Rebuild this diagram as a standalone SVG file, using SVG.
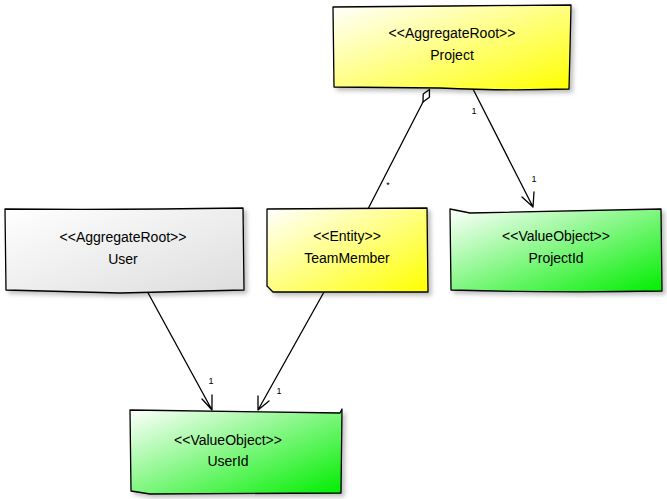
<svg xmlns="http://www.w3.org/2000/svg" width="667" height="499" viewBox="0 0 667 499">
<style>
.box{stroke:#000;stroke-width:1.3;stroke-linejoin:round;filter:url(#sh)}
.t{font-family:"Liberation Sans",Arial,sans-serif;font-size:14px;text-anchor:middle;fill:#000}
.c{fill:none;stroke:#000;stroke-width:1.3;stroke-linecap:round;stroke-linejoin:round}
.m{font-family:"Liberation Sans",Arial,sans-serif;font-size:9px;text-anchor:middle;fill:#000}
</style>
<defs>
<filter id="sh" x="-10%" y="-10%" width="130%" height="130%">
<feDropShadow dx="3" dy="3" stdDeviation="2" flood-color="#000" flood-opacity="0.25"/>
</filter>
<linearGradient id="gy" x1="0" y1="0" x2="1" y2="1"><stop offset="0" stop-color="#ffffff"/><stop offset="1" stop-color="#ffff00"/></linearGradient>
<linearGradient id="gg" x1="0" y1="0" x2="1" y2="1"><stop offset="0" stop-color="#ffffff"/><stop offset="1" stop-color="#00ee00"/></linearGradient>
<linearGradient id="gr" x1="0" y1="0" x2="1" y2="1"><stop offset="0" stop-color="#ffffff"/><stop offset="1" stop-color="#dddddd"/></linearGradient>
</defs>
<g id="connectors">
<path class="c" d="M368,209 L423,102"/>
<path class="c" d="M429.5,89.5 L429.4,97.3 L423,102 L423.2,94.1 Z" style="fill:#fff"/>
<path class="c" d="M473,89 L533,207 M522,197 L533,207 L534,192"/>
<path class="c" d="M147,291 L212,410 M202,399 L212,410 L212,395"/>
<path class="c" d="M324,292 L258,410 M258,396 L258,410 L269,401"/>
<text class="m" x="474" y="114">1</text>
<text class="m" x="534" y="182">1</text>
<text class="m" x="388" y="188">*</text>
<text class="m" x="211" y="384">1</text>
<text class="m" x="279" y="394">1</text>
</g>
<g id="project">
<path class="box" fill="url(#gy)" d="M333,7 L450,6 L571,5 L570,50 L569,89 Q500,91 440,88 L334,87 Z"/>
<text class="t" x="452" y="38">&lt;&lt;AggregateRoot&gt;&gt;</text>
<text class="t" x="452" y="60">Project</text>
</g>
<g id="user">
<path class="box" fill="url(#gr)" d="M5,209 Q120,210 243,208 L244,290 L120,293 L6,290 Z"/>
<text class="t" x="123" y="242">&lt;&lt;AggregateRoot&gt;&gt;</text>
<text class="t" x="123" y="264">User</text>
</g>
<g id="teammember">
<path class="box" fill="url(#gy)" d="M267,209 L427,208 L428,292 L273,292 L267,286 Z"/>
<text class="t" x="347" y="241">&lt;&lt;Entity&gt;&gt;</text>
<text class="t" x="347" y="263">TeamMember</text>
</g>
<g id="projectid">
<path class="box" fill="url(#gg)" d="M450,209 L470,213 L661,209 L662,291 Q560,293 451,290 Z"/>
<text class="t" x="556" y="241">&lt;&lt;ValueObject&gt;&gt;</text>
<text class="t" x="556" y="263">ProjectId</text>
</g>
<g id="userid">
<path class="box" fill="url(#gg)" d="M130,410 L340,413 L342,409 L341,493 L150,494 L131,491 Z"/>
<text class="t" x="228" y="445">&lt;&lt;ValueObject&gt;&gt;</text>
<text class="t" x="228" y="466">UserId</text>
</g>
</svg>
